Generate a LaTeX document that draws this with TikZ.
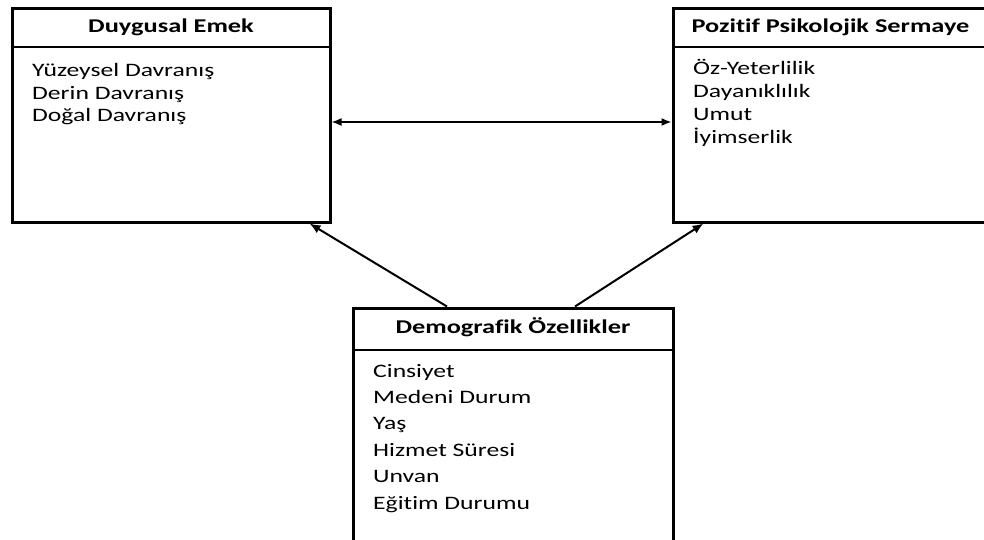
\documentclass[tikz,border=0pt]{standalone}
\usepackage{fontspec}
\setmainfont{Carlito}[FakeStretch=1.35,Ligatures=NoCommon]
\usetikzlibrary{arrows.meta}
\begin{document}
\begin{tikzpicture}[x=1pt,y=-1pt,
  box/.style={draw=black,line width=3pt,fill=white,inner sep=0pt},
  divider/.style={draw=black,line width=2pt},
  head/.style={anchor=base,inner sep=0pt,font=\fontsize{19.5}{22}\selectfont\bfseries},
  items/.style={anchor=base west,inner sep=0pt,align=left},
  arr/.style={draw=black,line width=2pt,-{Latex[length=11pt,width=9pt]}},
  darr/.style={draw=black,line width=1.6pt,{Latex[length=10pt,width=8pt]}-{Latex[length=10pt,width=8pt]}}]
\clip (0,0) rectangle (984,540);
\fill[white] (0,0) rectangle (984,540);
% boxes
\node[box,minimum width=318pt,minimum height=213pt] (de) at (171,115.5) {};
\node[box,minimum width=315pt,minimum height=213pt] (pp) at (830.5,115.5) {};
\node[box,minimum width=320pt,minimum height=260pt] (dm) at (513,438) {};
% dividers
\draw[divider] ([yshift=-40pt]de.north west) -- ([yshift=-40pt]de.north east);
\draw[divider] ([yshift=-40pt]pp.north west) -- ([yshift=-40pt]pp.north east);
\draw[divider] ([yshift=-43pt]dm.north west) -- ([yshift=-43pt]dm.north east);
% headers
\node[head] (deh) at (171,33) {Duygusal Emek};
\node[head] (pph) at (830.5,33) {Pozitif Psikolojik Sermaye};
\node[head] (dmh) at (513,333) {Demografik Özellikler};
% items (anchored at the baseline of the last line)
\node[items,font=\fontsize{19}{22.5}\selectfont] (dei) at (32,122) {Yüzeysel Davranış\\Derin Davranış\\Doğal Davranış};
\node[items,font=\fontsize{19}{23}\selectfont] (ppi) at (693,144) {Öz-Yeterlilik\\Dayanıklılık\\Umut\\İyimserlik};
\node[items,font=\fontsize{19}{26.4}\selectfont] (dmi) at (373,509) {Cinsiyet\\Medeni Durum\\Yaş\\Hizmet Süresi\\Unvan\\Eğitim Durumu};
% connectors
\draw[darr] ([yshift=-6.5pt]de.east) -- ([yshift=-6.5pt]de.east -| pp.west);
\draw[arr] ([xshift=-66pt]dm.north) -- ([xshift=-22pt]de.south east);
\draw[arr] ([xshift=62pt]dm.north) -- ([xshift=32pt]pp.south west);
\end{tikzpicture}
\end{document}
